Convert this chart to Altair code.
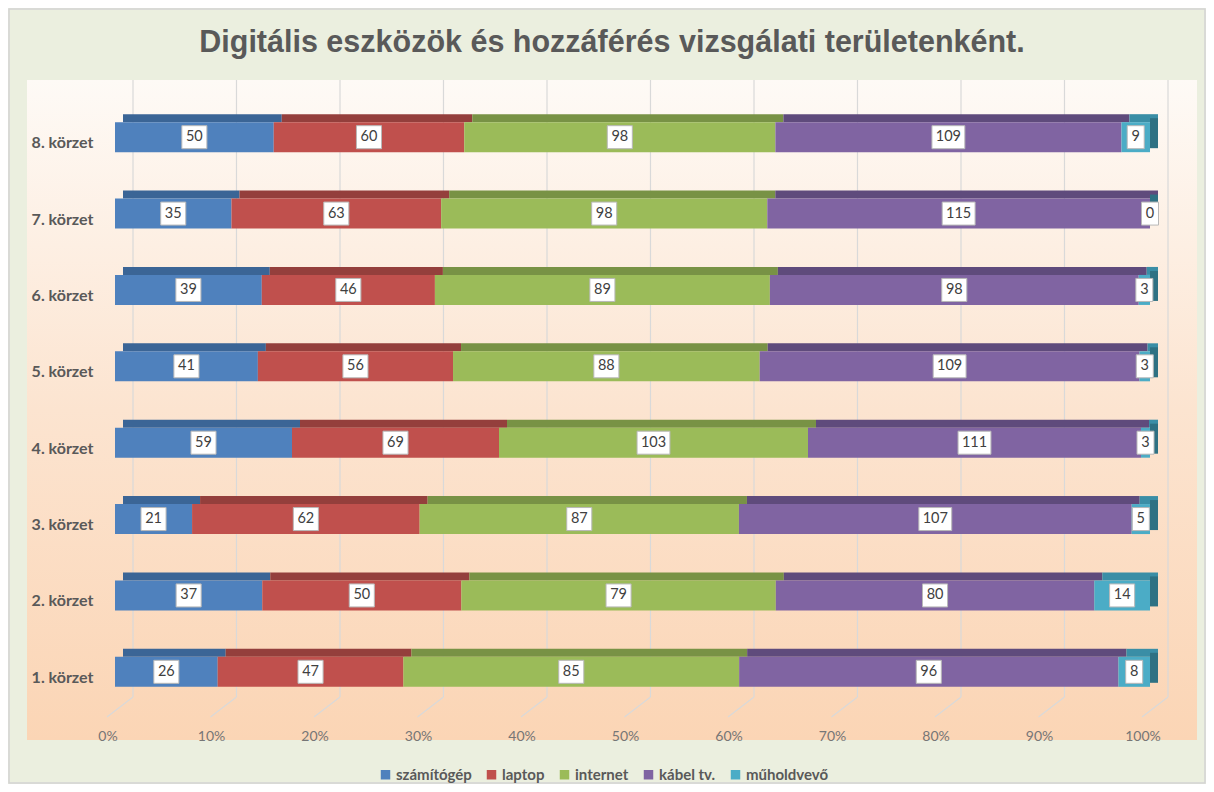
import altair as alt
import pandas as pd

title = "Digitális eszközök és hozzáférés vizsgálati területenként."
districts = ["8. körzet", "7. körzet", "6. körzet", "5. körzet",
             "4. körzet", "3. körzet", "2. körzet", "1. körzet"]
series = ["számítógép", "laptop", "internet", "kábel tv.", "műholdvevő"]
szamitogep = [50, 35, 39, 41, 59, 21, 37, 26]
laptop = [60, 63, 46, 56, 69, 62, 50, 47]
internet = [98, 98, 89, 88, 103, 87, 79, 85]
kabel = [109, 115, 98, 109, 111, 107, 80, 96]
muhold = [9, 0, 3, 3, 3, 5, 14, 8]
colors = ["#4f81bd", "#c0504d", "#9bbb59", "#8064a2", "#4bacc6"]
top_colors = ["#3b6596", "#943f3c", "#789245", "#5f4b7c", "#3a8ea6"]
tick_vals = [0, 0.1, 0.2, 0.3, 0.4, 0.5, 0.6, 0.7, 0.8, 0.9, 1.0]
tick_labels = ["0%", "10%", "20%", "30%", "40%", "50%", "60%", "70%", "80%", "90%", "100%"]

cols = [szamitogep, laptop, internet, kabel, muhold]
rows = []
for di, d in enumerate(districts):
    for si, s in enumerate(series):
        v = cols[si][di]
        rows.append({"district": d, "series": s, "order": si, "value": v,
                     "digits": str(len(str(v))), "tc": top_colors[si]})
df = pd.DataFrame(rows)
ticks = pd.DataFrame({"t": tick_vals, "lbl": tick_labels})
one = pd.DataFrame({"a": [0]})

xscale = alt.Scale(domain=[0, 1], nice=False, zero=False)
yscale = alt.Scale(domain=districts, paddingInner=0, paddingOuter=0)
yaxis = alt.Axis(title=None, domain=False, ticks=False, grid=False, zindex=1,
                 labelFont="Lato", labelFontWeight="bold", labelFontSize=16,
                 labelColor="#595959", labelPadding=22, labelOffset=6)
Y = alt.Y("district:N", scale=yscale, axis=yaxis)

base = alt.Chart(df).transform_stack(
    stack="value", groupby=["district"], as_=["v0", "v1"], offset="normalize",
    sort=[alt.SortField("order", order="ascending")]
).transform_calculate(mid="(datum.v0 + datum.v1) / 2")

bg = alt.Chart(one).mark_rect(
    color=alt.Gradient(gradient="linear",
                       stops=[alt.GradientStop(color="#fefaf6", offset=0),
                              alt.GradientStop(color="#fce4d0", offset=0.5),
                              alt.GradientStop(color="#fbd5b5", offset=1)],
                       x1=0, x2=0, y1=0, y2=1)
).encode(x=alt.value(-88), x2=alt.value(1082), y=alt.value(-19), y2=alt.value(641))

border = alt.Chart(one).mark_rect(fillOpacity=0, stroke="#d4d4d4", strokeWidth=1.5).encode(
    x=alt.value(-106), x2=alt.value(1090), y=alt.value(-90), y2=alt.value(684))

grid = alt.Chart(ticks).mark_rule(color="#d9d9d9", strokeWidth=1.2, xOffset=18).encode(
    x=alt.X("t:Q", scale=xscale, axis=None), y=alt.value(-19), y2=alt.value(598))
diag = alt.Chart(ticks).mark_rule(color="#d9d9d9", strokeWidth=1.2, xOffset=18, x2Offset=-8).encode(
    x=alt.X("t:Q", scale=xscale, axis=None), x2="t:Q", y=alt.value(598), y2=alt.value(618))
xlabels = alt.Chart(ticks).mark_text(dx=-7, font="Lato", fontSize=14, color="#767676").encode(
    x=alt.X("t:Q", scale=xscale, axis=None), y=alt.value(638), text="lbl:N")

ttl = alt.Chart(one).mark_text(font="Liberation Sans", fontWeight="bold", fontSize=30.5,
                               color="#595959").encode(
    x=alt.value(497), y=alt.value(-56), text=alt.value(title))

top = base.mark_bar(height=8, yOffset=-19, xOffset=8, x2Offset=8).encode(
    x=alt.X("v0:Q", scale=xscale, axis=None), x2="v1:Q", y=Y,
    color=alt.Color("tc:N", scale=None))

cap = base.transform_filter(alt.datum.series == "műholdvevő").mark_bar(
    height=30, yOffset=-4, color="#2e7183", x2Offset=8).encode(
    x=alt.X("v1:Q", scale=xscale, axis=None), x2="v1:Q", y=Y)

front = base.mark_bar(height=30).encode(
    x=alt.X("v0:Q", scale=xscale, axis=None), x2="v1:Q", y=Y,
    color=alt.Color("series:N", scale=alt.Scale(domain=series, range=colors),
                    sort=series,
                    legend=alt.Legend(title=None, orient="none", direction="horizontal",
                                      legendX=263, legendY=668, symbolType="square",
                                      symbolSize=90, symbolStrokeWidth=0,
                                      labelFont="Lato", labelFontWeight="bold",
                                      labelFontSize=15, labelColor="#595959",
                                      columnPadding=12, labelOffset=3)),
    order=alt.Order("order:Q"))

paths = ["M-0.74,-1H0.74V1H-0.74Z", "M-1.09,-1H1.09V1H-1.09Z", "M-1.43,-1H1.43V1H-1.43Z"]
boxes = base.mark_point(filled=True, fill="white", stroke="#b8b8b8", strokeWidth=1,
                        size=529, opacity=1).encode(
    x=alt.X("mid:Q", scale=xscale, axis=None), y=Y,
    shape=alt.Shape("digits:N", scale=alt.Scale(domain=["1", "2", "3"], range=paths),
                    legend=None))
labels = base.mark_text(font="Lato", fontSize=14.5, color="#404040").encode(
    x=alt.X("mid:Q", scale=xscale, axis=None), y=Y,
    text="value:Q")

chart = alt.layer(bg, border, grid, diag, xlabels, ttl, top, cap, front, boxes, labels).properties(
    width=1035, height=611,
    autosize=alt.AutoSizeParams(type="none"),
    padding={"left": 107, "top": 91, "right": 56, "bottom": 74},
    background="#ebefdf"
).configure_view(stroke=None)

chart.save("out.html", embed_options={"renderer": "svg", "actions": False})
